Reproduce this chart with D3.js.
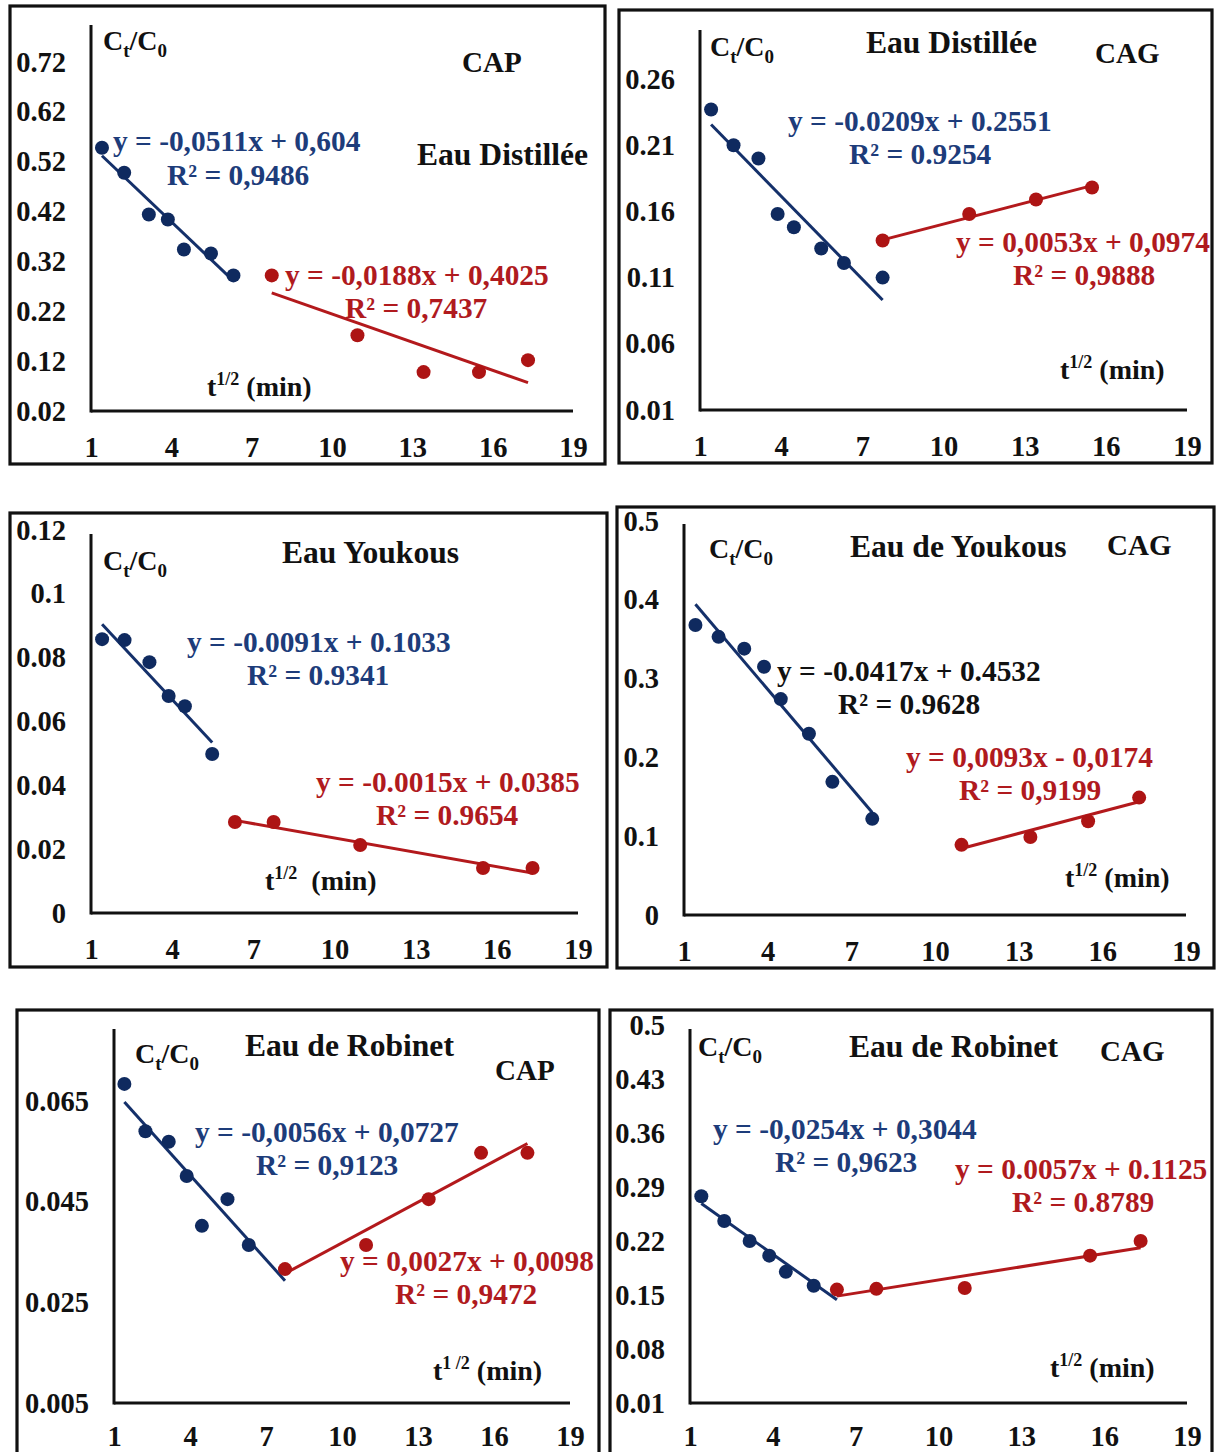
<!DOCTYPE html>
<html>
<head>
<meta charset="utf-8">
<script src="https://cdn.jsdelivr.net/npm/d3@7"></script>
<style>
  html, body { margin: 0; padding: 0; background: #fff; }
  svg { display: block; }
  text { font-family: "Liberation Serif", "Times New Roman", serif; font-weight: bold; white-space: pre; }
</style>
</head>
<body>
<svg id="chart" width="1216" height="1452"></svg>
<script>
// ---- data: square root of contact time (min^1/2) and Ct/C0 ----
const xTicks = [1, 4, 7, 10, 13, 16, 19];

const panelNames = ["Eau Distillée", "Eau Distillée", "Eau Youkous", "Eau de Youkous", "Eau de Robinet", "Eau de Robinet"];
const adsorbents = ["CAP", "CAG", "", "CAG", "CAP", "CAG"];

const yTicks1 = [0.02, 0.12, 0.22, 0.32, 0.42, 0.52, 0.62, 0.72];
const yTicks2 = [0.01, 0.06, 0.11, 0.16, 0.21, 0.26];
const yTicks3 = [0, 0.02, 0.04, 0.06, 0.08, 0.1, 0.12];
const yTicks4 = [0, 0.1, 0.2, 0.3, 0.4, 0.5];
const yTicks5 = [0.005, 0.025, 0.045, 0.065];
const yTicks6 = [0.01, 0.08, 0.15, 0.22, 0.29, 0.36, 0.43, 0.5];

// first stage (blue) and second stage (red) points
const blueX1 = [1.41, 2.24, 3.16, 3.87, 4.47, 5.48, 6.32];
const blueY1 = [0.548, 0.498, 0.414, 0.404, 0.344, 0.336, 0.292];
const redX1  = [7.75, 10.95, 13.42, 15.49, 17.32];
const redY1  = [0.292, 0.172, 0.098, 0.098, 0.122];

const blueX2 = [1.41, 2.24, 3.16, 3.87, 4.47, 5.48, 6.32, 7.75];
const blueY2 = [0.237, 0.210, 0.200, 0.158, 0.148, 0.132, 0.121, 0.110];
const redX2  = [7.75, 10.95, 13.42, 15.49];
const redY2  = [0.138, 0.158, 0.169, 0.178];

const blueX3 = [1.41, 2.24, 3.16, 3.87, 4.47, 5.48];
const blueY3 = [0.0858, 0.0855, 0.0786, 0.0680, 0.0648, 0.0498];
const redX3  = [6.32, 7.75, 10.95, 15.49, 17.32];
const redY3  = [0.0285, 0.0285, 0.0213, 0.0141, 0.0141];

const blueX4 = [1.41, 2.24, 3.16, 3.87, 4.47, 5.48, 6.32, 7.75];
const blueY4 = [0.368, 0.353, 0.338, 0.315, 0.274, 0.230, 0.169, 0.122];
const redX4  = [10.95, 13.42, 15.49, 17.32];
const redY4  = [0.089, 0.099, 0.119, 0.149];

const blueX5 = [1.41, 2.24, 3.16, 3.87, 4.47, 5.48, 6.32];
const blueY5 = [0.0684, 0.0590, 0.0569, 0.0501, 0.0402, 0.0455, 0.0364];
const redX5  = [7.75, 10.95, 13.42, 15.49, 17.32];
const redY5  = [0.0316, 0.0364, 0.0455, 0.0547, 0.0547];

const blueX6 = [1.41, 2.24, 3.16, 3.87, 4.47, 5.48];
const blueY6 = [0.278, 0.246, 0.220, 0.201, 0.180, 0.162];
const redX6  = [6.32, 7.75, 10.95, 15.49, 17.32];
const redY6  = [0.157, 0.158, 0.159, 0.201, 0.220];

// linear fits: slope, intercept, R², x-extent of the fitted segment, decimal mark
const blueFits = [
  { slope: -0.0511, intercept: 0.604,  r2: 0.9486, from: 1.41, to: 6.32, dec: "," },
  { slope: -0.0209, intercept: 0.2551, r2: 0.9254, from: 1.41, to: 7.75, dec: "." },
  { slope: -0.0091, intercept: 0.1033, r2: 0.9341, from: 1.41, to: 5.48, dec: "." },
  { slope: -0.0417, intercept: 0.4532, r2: 0.9628, from: 1.41, to: 7.75, dec: "." },
  { slope: -0.0056, intercept: 0.0727, r2: 0.9123, from: 1.41, to: 7.75, dec: "," },
  { slope: -0.0254, intercept: 0.3044, r2: 0.9623, from: 1.41, to: 6.32, dec: "," }
];
const redFits = [
  { slope: -0.0188, intercept: 0.4025, r2: 0.7437, from: 7.75,  to: 17.32, dec: "," },
  { slope: 0.0053,  intercept: 0.0974, r2: 0.9888, from: 7.75,  to: 15.49, dec: "," },
  { slope: -0.0015, intercept: 0.0385, r2: 0.9654, from: 6.32,  to: 17.32, dec: "." },
  { slope: 0.0093,  intercept: -0.0174, r2: 0.9199, from: 10.95, to: 17.32, dec: "," },
  { slope: 0.0027,  intercept: 0.0098, r2: 0.9472, from: 7.75,  to: 17.32, dec: "," },
  { slope: 0.0057,  intercept: 0.1125, r2: 0.8789, from: 6.32,  to: 17.32, dec: "." }
];

const xAxisTitles = ["t|1/2| (min)", "t|1/2| (min)", "t|1/2|  (min)", "t|1/2| (min)", "t|1 /2| (min)", "t|1/2| (min)"];

// ---- layout of the six framed panels ----
const layout = [
  { frame: [10, 6, 605, 464],    x0: 91,  x1: 573,  yBot: 411,  yTop: 62,   axisTop: 25,  xlabOff: 26,
    ylab: [103, 50], name: [417, 165], ads: [462, 72], beq: [113, 151], bR: [167, 185], req: [285, 285], rR: [345, 318], xt: [207, 396] },
  { frame: [619, 10, 1212, 463], x0: 700, x1: 1187, yBot: 410,  yTop: 79,   axisTop: 30,  xlabOff: 26,
    ylab: [710, 56], name: [866, 53], ads: [1095, 63], beq: [788, 131], bR: [849, 164], req: [956, 252], rR: [1013, 285], xt: [1060, 379] },
  { frame: [10, 513, 607, 967],  x0: 91,  x1: 578,  yBot: 913,  yTop: 530,  axisTop: 534, xlabOff: 26,
    ylab: [103, 570], name: [282, 563], ads: null, beq: [187, 652], bR: [247, 685], req: [316, 792], rR: [376, 825], xt: [265, 890] },
  { frame: [617, 507, 1214, 968], x0: 684, x1: 1186, yBot: 915, yTop: 521,  axisTop: 524, xlabOff: 26,
    ylab: [709, 558], name: [850, 557], ads: [1107, 555], beq: [777, 681], bR: [838, 714], req: [906, 767], rR: [959, 800], xt: [1065, 887] },
  { frame: [17, 1010, 599, 1480], x0: 114, x1: 570, yBot: 1403, yTop: 1101, axisTop: 1029, xlabOff: 23,
    ylab: [135, 1063], name: [245, 1056], ads: [495, 1080], beq: [195, 1142], bR: [256, 1175], req: [340, 1271], rR: [395, 1304], xt: [433, 1380] },
  { frame: [610, 1010, 1212, 1480], x0: 690, x1: 1187, yBot: 1403, yTop: 1025, axisTop: 1029, xlabOff: 23,
    ylab: [698, 1056], name: [849, 1057], ads: [1100, 1061], beq: [713, 1139], bR: [775, 1172], req: [955, 1179], rR: [1012, 1212], xt: [1050, 1377] }
];

const yTickSets = [yTicks1, yTicks2, yTicks3, yTicks4, yTicks5, yTicks6];
const blueXs = [blueX1, blueX2, blueX3, blueX4, blueX5, blueX6];
const blueYs = [blueY1, blueY2, blueY3, blueY4, blueY5, blueY6];
const redXs = [redX1, redX2, redX3, redX4, redX5, redX6];
const redYs = [redY1, redY2, redY3, redY4, redY5, redY6];

const BLUE_TXT = "#1d3c7a", BLUE_DOT = "#0f2a5f", BLUE_LINE = "#14306a";
const RED_TXT = "#b01a1e", RED_DOT = "#ad1414", RED_LINE = "#b3191c";
const FS = 29.4;       // equations, axis titles
const TICK_FS = 28.5;  // tick labels
const NAME_FS = 31.6;  // water type titles
const ADS_FS = 29;     // adsorbent titles

const svg = d3.select("#chart");
svg.append("rect").attr("width", 1216).attr("height", 1452).attr("fill", "#fff");

function num(v, dec) { return String(v).replace(".", dec); }
function eqText(f) {
  const sign = f.intercept < 0 ? " - " : " + ";
  return "y = " + (f.slope < 0 ? "-" : "") + num(Math.abs(f.slope), f.dec) + "x" + sign + num(Math.abs(f.intercept), f.dec);
}
function r2Text(f) { return "R² = " + num(f.r2, f.dec); }

layout.forEach((L, i) => {
  const g = svg.append("g");
  const ticks = yTickSets[i];

  // panel frame
  g.append("rect")
    .attr("x", L.frame[0]).attr("y", L.frame[1])
    .attr("width", L.frame[2] - L.frame[0]).attr("height", L.frame[3] - L.frame[1])
    .attr("fill", "none").attr("stroke", "#111").attr("stroke-width", 3.2);

  const x = d3.scaleLinear().domain([1, 19]).range([L.x0, L.x1]);
  const y = d3.scaleLinear().domain([ticks[0], ticks[ticks.length - 1]]).range([L.yBot, L.yTop]);

  // y tick labels
  const ya = g.append("g").attr("transform", `translate(${L.x0},0)`)
    .call(d3.axisLeft(y).tickValues(ticks).tickSize(0).tickPadding(25).tickFormat(d => String(d)));
  ya.select(".domain").remove();
  ya.selectAll("text").attr("font-size", TICK_FS).attr("fill", "#111")
    .style("font-family", '"Liberation Serif", serif').style("font-weight", "bold");

  // x tick labels
  const xa = g.append("g").attr("transform", `translate(0,${L.yBot})`)
    .call(d3.axisBottom(x).tickValues(xTicks).tickSize(0).tickPadding(0).tickFormat(d => String(d)));
  xa.select(".domain").remove();
  xa.selectAll("text").attr("font-size", TICK_FS).attr("fill", "#111").attr("y", L.xlabOff).attr("dy", "0.71em")
    .style("font-family", '"Liberation Serif", serif').style("font-weight", "bold");

  // axis lines
  g.append("line").attr("x1", L.x0).attr("x2", L.x0).attr("y1", L.axisTop).attr("y2", L.yBot + 1.5)
    .attr("stroke", "#111").attr("stroke-width", 3);
  g.append("line").attr("x1", L.x0).attr("x2", L.x1).attr("y1", L.yBot).attr("y2", L.yBot)
    .attr("stroke", "#111").attr("stroke-width", 3);

  // fitted lines
  [[blueFits[i], BLUE_LINE], [redFits[i], RED_LINE]].forEach(([f, c]) => {
    g.append("line")
      .attr("x1", x(f.from)).attr("y1", y(f.slope * f.from + f.intercept))
      .attr("x2", x(f.to)).attr("y2", y(f.slope * f.to + f.intercept))
      .attr("stroke", c).attr("stroke-width", 3);
  });

  // points
  const pts = (xs, ys, c) => g.append("g").selectAll("circle")
    .data(xs.map((v, k) => [v, ys[k]])).join("circle")
    .attr("cx", d => x(d[0])).attr("cy", d => y(d[1])).attr("r", 7).attr("fill", c);
  pts(blueXs[i], blueYs[i], BLUE_DOT);
  pts(redXs[i], redYs[i], RED_DOT);

  // y-axis label Ct/C0
  const yl = g.append("text").attr("x", L.ylab[0]).attr("y", L.ylab[1]).attr("font-size", 28).attr("fill", "#111");
  yl.append("tspan").text("C");
  yl.append("tspan").text("t").attr("font-size", 19).attr("dy", 7);
  yl.append("tspan").text("/C").attr("dy", -7);
  yl.append("tspan").text("0").attr("font-size", 19).attr("dy", 7);

  // panel titles
  g.append("text").attr("x", L.name[0]).attr("y", L.name[1]).attr("font-size", NAME_FS).attr("fill", "#111").text(panelNames[i]);
  if (L.ads) g.append("text").attr("x", L.ads[0]).attr("y", L.ads[1]).attr("font-size", ADS_FS).attr("fill", "#111").text(adsorbents[i]);

  // fit equations
  const blueEqColor = i === 3 ? "#111" : BLUE_TXT;
  g.append("text").attr("x", L.beq[0]).attr("y", L.beq[1]).attr("font-size", FS).attr("fill", blueEqColor).text(eqText(blueFits[i]));
  g.append("text").attr("x", L.bR[0]).attr("y", L.bR[1]).attr("font-size", FS).attr("fill", blueEqColor).text(r2Text(blueFits[i]));
  g.append("text").attr("x", L.req[0]).attr("y", L.req[1]).attr("font-size", FS).attr("fill", RED_TXT).text(eqText(redFits[i]));
  g.append("text").attr("x", L.rR[0]).attr("y", L.rR[1]).attr("font-size", FS).attr("fill", RED_TXT).text(r2Text(redFits[i]));

  // x-axis title t^1/2 (min)
  const parts = xAxisTitles[i].split("|");
  const xt = g.append("text").attr("x", L.xt[0]).attr("y", L.xt[1]).attr("font-size", 28).attr("fill", "#111");
  xt.append("tspan").text(parts[0]);
  xt.append("tspan").text(parts[1]).attr("font-size", 18).attr("dy", -11);
  xt.append("tspan").text(parts[2]).attr("dy", 11);
});
</script>
</body>
</html>
